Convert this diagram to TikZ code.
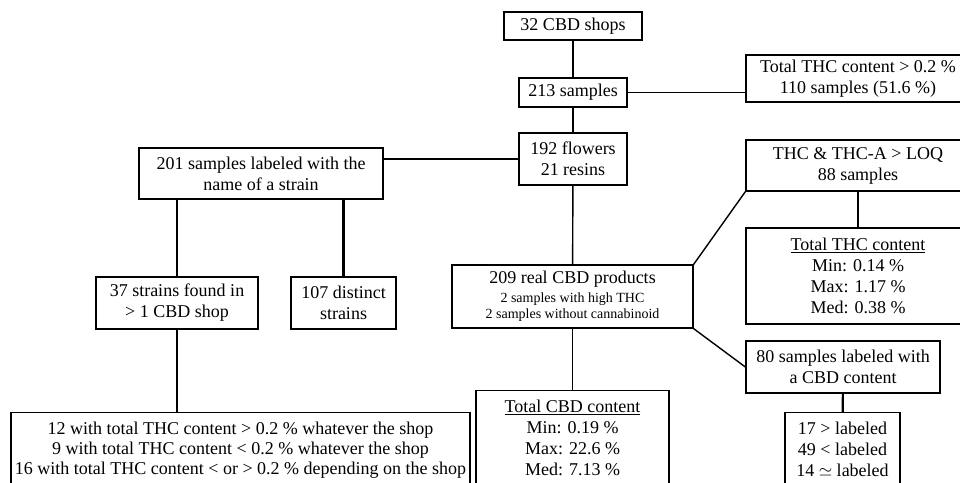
\documentclass[tikz,border=0pt]{standalone}
\usepackage{fontspec}
\setmainfont{Liberation Serif}
\tikzset{
  box/.style={draw, line width=1.3pt, align=center, inner xsep=2pt, inner ysep=0pt,
              font=\fontsize{18}{21}\selectfont},
  cutbox/.style={box, anchor=north, inner ysep=9pt},
  conn/.style={line width=1.4pt},
  thick conn/.style={line width=2.2pt}
}
\begin{document}
\begin{tikzpicture}[x=1pt,y=-1pt]
\clip (0,0) rectangle (960,482);
% top column
\node[box, minimum width=138pt, minimum height=28pt] (shops) at (573,26) {32 CBD shops};
\node[box, minimum width=108pt, minimum height=29pt] (s213) at (573,92.5) {213 samples};
\node[box, minimum width=224pt, minimum height=47pt] (thc02) at (858,78.5)
  {Total THC content > 0.2 \%\\110 samples (51.6 \%)};
\node[box, minimum width=108pt, minimum height=52pt] (f192) at (573,159) {192 flowers\\21 resins};
% left branch
\node[box, minimum width=244pt, minimum height=51pt] (b201) at (261,173.5)
  {201 samples labeled with the\\name of a strain};
\node[box, minimum width=162pt, minimum height=52pt] (st37) at (177,303)
  {37 strains found in\\> 1 CBD shop};
\node[box, minimum width=105pt, minimum height=52pt] (d107) at (343.5,303)
  {107 distinct\\strains};
\node[cutbox, minimum width=459pt] (bl) at (240.5,412)
  {12 with total THC content > 0.2 \% whatever the shop\\[-1pt]
   9 with total THC content < 0.2 \% whatever the shop\\[-1pt]
   16 with total THC content < or > 0.2 \% depending on the shop\\ \mbox{}};
% middle branch
\node[box, minimum width=241pt, minimum height=63pt] (p209) at (572.5,296.5)
  {209 real CBD products\\[-2pt]
   {\fontsize{14}{17}\selectfont 2 samples with high THC}\\[-5pt]
   {\fontsize{14}{17}\selectfont 2 samples without cannabinoid}};
\node[cutbox, minimum width=193pt] (cbd) at (572.5,390)
  {\underline{Total CBD content}\\Min: 0.19 \%\\Max: 22.6 \%\\Med: 7.13 \%\\ \mbox{}};
% right branch
\node[box, minimum width=224pt, minimum height=51pt] (thcA) at (858,165.5)
  {THC \& THC-A > LOQ\\88 samples};
\node[box, minimum width=224pt, minimum height=96pt] (thcT) at (858,276)
  {\underline{Total THC content}\\Min: 0.14 \%\\Max: 1.17 \%\\Med: 0.38 \%};
\node[box, minimum width=194pt, minimum height=52pt] (l80) at (843,367)
  {80 samples labeled with\\a CBD content};
\node[cutbox, minimum width=115pt] (lab) at (842.5,412)
  {17 > labeled\\49 < labeled\\14 $\simeq$ labeled\\ \mbox{}};
% connectors
\draw[conn] (shops) -- (s213);
\draw[thick conn] (s213) -- (f192);
\draw[conn] (s213.east) -- (s213.east -| thc02.west);
\draw[conn] (f192.west) -- (f192.west -| b201.east);
\draw[thick conn] (st37.north) -- (st37.north |- b201.south);
\draw[thick conn] (d107.north) -- (d107.north |- b201.south);
\draw[thick conn] (st37.south) -- (st37.south |- bl.north);
\draw[conn] (f192) -- (p209);
\draw[conn] (p209) -- (cbd);
\draw[conn] (p209.north east) -- (thcA.south west);
\draw[thick conn] (thcA) -- (thcT);
\draw[conn] (p209.south east) -- (l80.west);
\draw[thick conn] (l80) -- (lab);
\end{tikzpicture}
\end{document}
